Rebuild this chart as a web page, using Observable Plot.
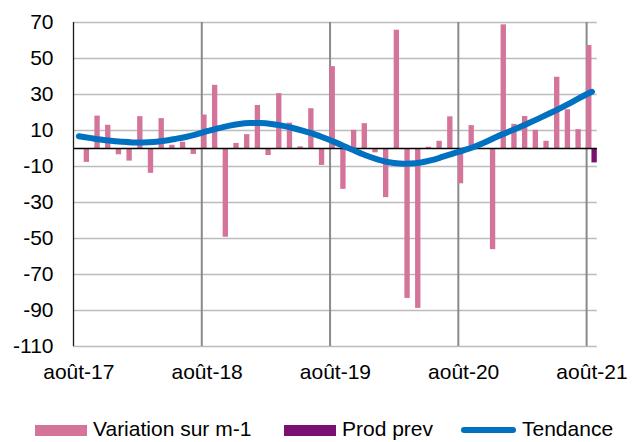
<!DOCTYPE html>
<html>
<head>
<meta charset="utf-8">
<script src="https://cdn.jsdelivr.net/npm/d3@7"></script>
<script src="https://cdn.jsdelivr.net/npm/@observablehq/plot@0.6"></script>
<style>
  body { margin: 0; background: #fff; }
  #wrap { position: relative; width: 635px; height: 442px; font-family: "Liberation Sans", Arial, sans-serif; }
  #chart { position: absolute; left: 0; top: 0; }
  .leg { position: absolute; top: 418px; height: 21px; font-size: 21px; line-height: 21px; color: #000; white-space: nowrap; }
  .sw { position: absolute; }
</style>
</head>
<body>
<div id="wrap">
  <div id="chart"></div>
  <div class="sw" style="left:35px; top:425px; width:52px; height:11px; background:#d4749a;"></div>
  <div class="leg" style="left:93px;">Variation sur m-1</div>
  <div class="sw" style="left:284px; top:425px; width:52px; height:11px; background:#7a1070;"></div>
  <div class="leg" style="left:342px;">Prod prev</div>
  <div class="sw" style="left:461px; top:427px; width:55px; height:6px; border-radius:3px; background:#0070c0;"></div>
  <div class="leg" style="left:522px;">Tendance</div>
</div>
<script>
// Month index 0 = août-17 ... 48 = août-21
const variation = [null, -7.7, 18.0, 12.9, -3.5, -7.0, 17.7, -13.8, 16.6, 1.8, 3.5, -3.3,
  18.6, 35.1, -49.3, 2.8, 7.7, 23.9, -3.9, 30.5, 14.1, 0.9, 22.1, -9.4,
  45.5, -22.7, 10.1, 13.8, -2.4, -27.3, 65.7, -83.3, -88.8, 0.7, 4.0, 17.6,
  -19.6, 12.7, -0.3, -56.2, 68.7, 13.4, 17.8, 10.1, 4.0, 39.6, 21.5, 10.5,
  57.2];
const prodPrev = [null, null, null, null, null, null, null, null, null, null, null, null,
  null, null, null, null, null, null, null, null, null, null, null, null,
  null, null, null, null, null, null, null, null, null, null, null, null,
  null, null, null, null, null, null, null, null, null, null, null, null,
  -8.0];
const tendance = [6.8, 5.9, 5.0, 4.3, 3.8, 3.4, 3.3, 3.6, 4.3, 5.3, 6.4, 7.8,
  9.6, 11.2, 12.6, 13.6, 14.1, 14.1, 13.6, 12.7, 11.4, 9.8, 8.0, 5.8,
  3.4, 0.8, -1.8, -4.2, -6.2, -7.6, -8.3, -8.4, -7.8, -6.5, -4.7, -2.8,
  -1.0, 1.0, 3.5, 6.3, 8.8, 11.3, 13.9, 16.6, 19.4, 22.3, 25.4, 28.6,
  31.5];
const xLabels = ["août-17", "août-18", "août-19", "août-20", "août-21"];
const xLabelMonths = [0, 12, 24, 36, 48];
const yTicks = [70, 50, 30, 10, -10, -30, -50, -70, -90, -110];

const months = d3.range(variation.length);
const rows = months.map(i => ({i, v: variation[i], p: prodPrev[i], t: tendance[i]}));

const chart = Plot.plot({
  width: 635,
  height: 400,
  marginLeft: 73,
  marginRight: 38.2,
  marginTop: 22,
  marginBottom: 54,
  style: {fontFamily: '"Liberation Sans", Arial, sans-serif', fontSize: "21px", color: "#000", background: "#fff"},
  x: {type: "linear", domain: [0, 49]},
  y: {domain: [-110, 70]},
  marks: [
    Plot.ruleY(yTicks, {stroke: "#bcbcbc", strokeWidth: 1.3}),
    Plot.ruleX(xLabelMonths.slice(1), {y1: -110, y2: 70, stroke: "#8a8a8a", strokeWidth: 2}),
    Plot.rect(rows.filter(d => d.v != null), {x1: d => d.i, x2: d => d.i + 0.5, y1: 0, y2: "v", fill: "#d4749a"}),
    Plot.rect(rows.filter(d => d.p != null), {x1: d => d.i + 0.5, x2: d => d.i + 1, y1: 0, y2: "p", fill: "#7a1070"}),
    Plot.ruleY([0], {stroke: "#000", strokeWidth: 1.3}),
    Plot.ruleX([0], {y1: -110, y2: 70, stroke: "#1a1a1a", strokeWidth: 1.3}),
    Plot.line(rows, {x: d => d.i + 0.5, y: "t", stroke: "#0070c0", strokeWidth: 6, curve: "catmull-rom", strokeLinecap: "round", strokeLinejoin: "round"}),
    Plot.axisY({ticks: yTicks, tickSize: 0, tickPadding: 20, fontSize: 21, tickFormat: d => String(d), label: null}),
    Plot.axisX({ticks: xLabelMonths.map(m => m + 0.5), tickSize: 0, tickPadding: 18, fontSize: 21,
      tickFormat: d => xLabels[xLabelMonths.indexOf(d - 0.5)], label: null})
  ]
});
document.getElementById("chart").appendChild(chart);
</script>
</body>
</html>
